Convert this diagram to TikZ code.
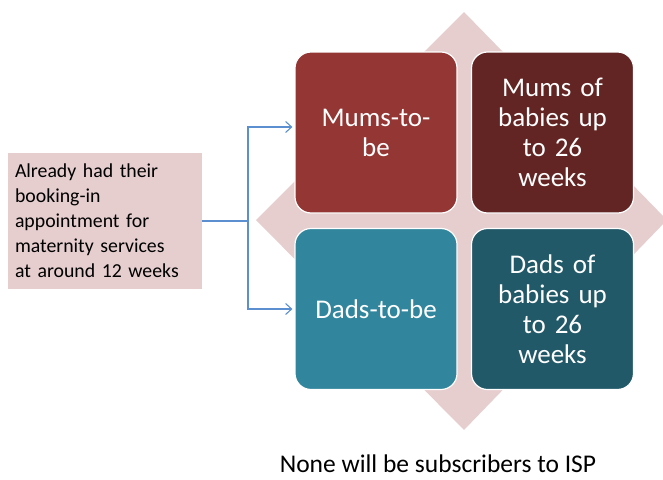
\documentclass[tikz,border=0pt]{standalone}
\usepackage{fontspec}
\setmainfont{Carlito}
\usetikzlibrary{arrows.meta}
\definecolor{pinkbg}{HTML}{E6CDCE}
\definecolor{boxred}{HTML}{943634}
\definecolor{boxdarkred}{HTML}{632523}
\definecolor{boxteal}{HTML}{31859C}
\definecolor{boxdarkteal}{HTML}{215968}
\definecolor{arrowblue}{HTML}{5B8FD0}
\tikzset{
  quad/.style={draw=white, line width=1.2pt, rounded corners=16pt, minimum width=162pt, minimum height=161pt, text width=140pt, align=center, text=white, font=\fontsize{27}{30}\selectfont, inner sep=0pt},
  conn/.style={draw=arrowblue, line width=1.1pt},
  tip/.style={-{Straight Barb[length=6pt,width=11pt,line width=1.1pt]}}
}
\begin{document}
\begin{tikzpicture}[x=1pt,y=-1pt]
\useasboundingbox (0,0) rectangle (663,479);
% background diamond
\fill[pinkbg] (464,12) -- (667,220) -- (464,430) -- (256,220) -- cycle;
% quadrant boxes
\node[quad, fill=boxred] (mtb) at (376,132.5) {Mums-to-\\be};
\node[quad, fill=boxdarkred] (mob) at (552.5,132.5) {Mums of\\babies up\\to 26\\weeks};
\node[quad, fill=boxteal] (dtb) at (376,309) {Dads-to-be};
\node[quad, fill=boxdarkteal] (dob) at (552.5,309) {Dads of\\babies up\\to 26\\weeks};
% left box
\node[fill=pinkbg, minimum width=194pt, minimum height=136pt, text width=180pt, align=left, inner sep=0pt, font=\fontsize{19.8}{25}\selectfont] (src) at (105,221) {Already had their\\booking-in\\appointment for\\maternity services\\at around 12 weeks};
% connectors
\coordinate (fork) at (248,221);
\draw[conn] (src.east) -- (fork);
\draw[conn, tip] (fork) |- ([xshift=-2pt]mtb.west |- 0,127);
\draw[conn, tip] (fork) |- ([xshift=-2pt]dtb.west |- 0,309);
% caption
\node[font=\fontsize{25.5}{30}\selectfont, anchor=base] (cap) at (438,472) {None will be subscribers to ISP};
\end{tikzpicture}
\end{document}
